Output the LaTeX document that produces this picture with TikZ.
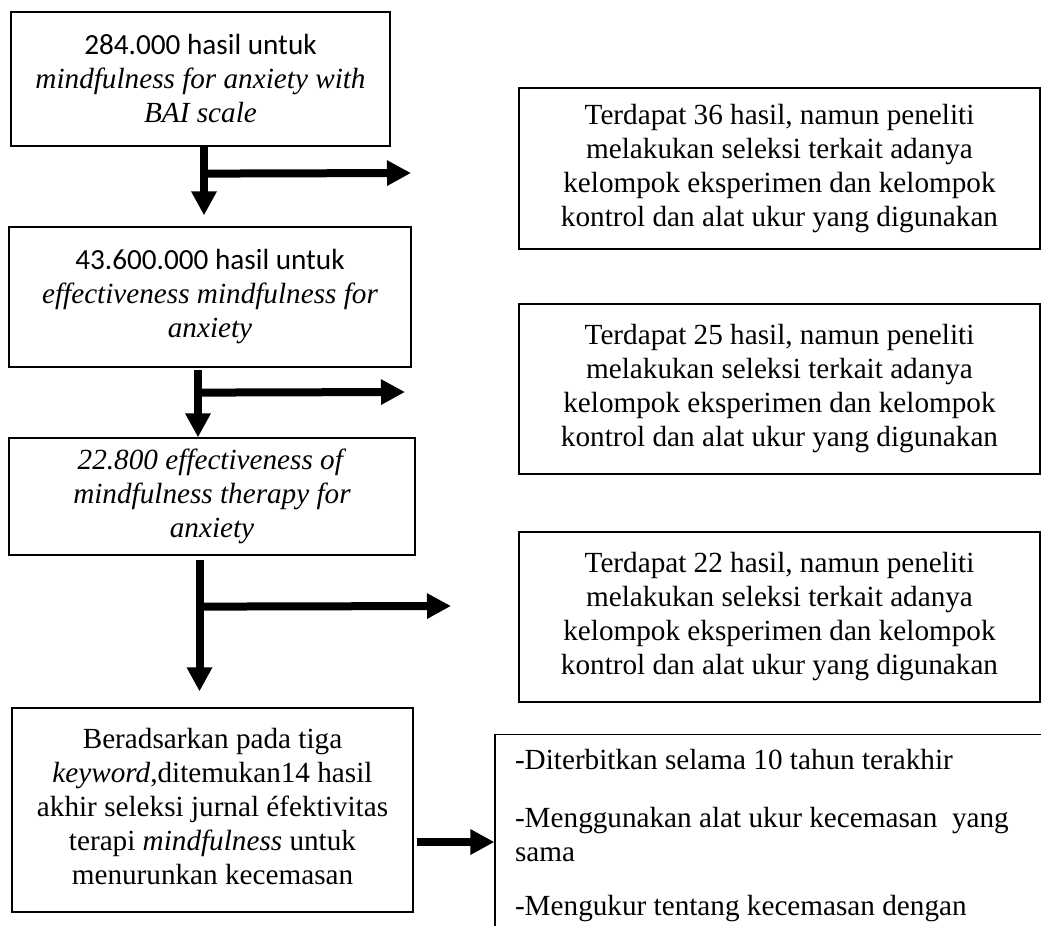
\documentclass[tikz,border=0pt]{standalone}
\usepackage{fontspec}
\setmainfont{Liberation Serif}
\newfontfamily\calfont{Carlito}
\usetikzlibrary{arrows.meta,calc}
\begin{document}
\begin{tikzpicture}[x=0.75pt,y=-0.75pt,
  box/.style={draw=black, line width=0.9pt, inner sep=0pt, align=center,
    font=\fontsize{21.9}{25.5}\selectfont},
  fat/.style={line width=6pt, -{Triangle[length=18pt,width=18pt]}}]
\useasboundingbox (0,0) rectangle (1041,925);
\clip (0,0) rectangle (1041,925);
% left column
\node[box, minimum width=284.25pt, minimum height=100.5pt] (b1) at (200.5,79)
  {{\calfont 284.000 hasil untuk}\\ \textit{mindfulness for anxiety with}\\ \textit{BAI scale}};
\node[box, minimum width=301.5pt, minimum height=105pt] (b2) at (210,297)
  {{\calfont 43.600.000 hasil untuk}\\ \textit{effectiveness mindfulness for}\\ \textit{anxiety}};
\node[box, minimum width=304.5pt, minimum height=87.75pt] (b3) at (212,496.5)
  {\raisebox{-4.5pt}{\begin{tabular}{@{}c@{}}\textit{22.800 effectiveness of}\\ \textit{mindfulness therapy for}\\ \textit{anxiety}\end{tabular}}};
\node[box, minimum width=300.75pt, minimum height=153pt] (b4) at (212.5,810)
  {\raisebox{3.75pt}{\begin{tabular}{@{}c@{}}Beradsarkan pada tiga\\ \textit{keyword},ditemukan14 hasil\\ akhir seleksi jurnal éfektivitas\\ terapi \textit{mindfulness} untuk\\ menurunkan kecemasan\end{tabular}}};
% right column
\node[box, minimum width=390.75pt, minimum height=120.75pt] (r1) at (779.5,168.5)
  {Terdapat 36 hasil, namun peneliti\\ melakukan seleksi terkait adanya\\ kelompok eksperimen dan kelompok\\ kontrol dan alat ukur yang digunakan};
\node[box, minimum width=390.75pt, minimum height=127.5pt] (r2) at (779.5,389)
  {Terdapat 25 hasil, namun peneliti\\ melakukan seleksi terkait adanya\\ kelompok eksperimen dan kelompok\\ kontrol dan alat ukur yang digunakan};
\node[box, minimum width=390.75pt, minimum height=127.5pt] (r3) at (779.5,617)
  {Terdapat 22 hasil, namun peneliti\\ melakukan seleksi terkait adanya\\ kelompok eksperimen dan kelompok\\ kontrol dan alat ukur yang digunakan};
\node[box, align=flush left, text width=420pt, minimum height=152.25pt, inner xsep=15pt] (b5) at (795,836)
  {-Diterbitkan selama 10 tahun terakhir\\[18pt]
   -Menggunakan alat ukur kecemasan\ \ yang\\
   sama\\[15pt]
   -Mengukur tentang kecemasan dengan};
% free ends of branch arrows
\coordinate (t1) at (411,173);
\coordinate (t2) at (405,392);
\coordinate (t3) at (451,606);
% arrows
\draw[fat] ($(b1.south)+(3.5,0)$) -- ($(b2.north)+(-6,-11)$);
\draw[fat] ($(b1.south)+(3.5,27)$) -- (t1);
\draw[fat] ($(b2.south)+(-12,2)$) -- ($(b3.north)+(-14,0)$);
\draw[fat] ($(b2.south)+(-12,25)$) -- (t2);
\draw[fat] ($(b3.south)+(-12.5,4)$) -- ($(b4.north)+(-13,-16)$);
\draw[fat] ($(b3.south)+(-12.5,51)$) -- (t3);
\draw[fat] ($(b4.east)+(3,32)$) coordinate (s4) -- (s4 -| b5.west);
\end{tikzpicture}
\end{document}
